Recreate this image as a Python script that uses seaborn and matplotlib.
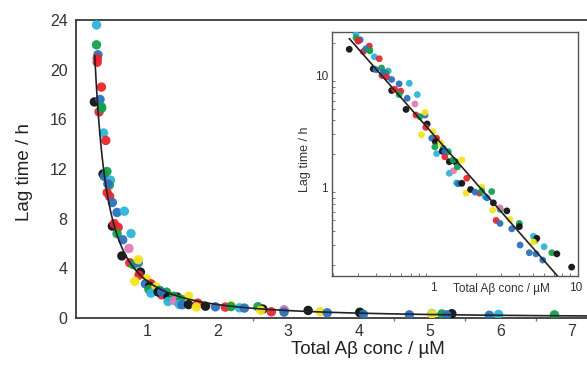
import numpy as np
import pandas as pd
import matplotlib
matplotlib.use("Agg")
import matplotlib.pyplot as plt
import matplotlib.ticker as mticker
import seaborn as sns

# ---- data ----
conc = [0.26, 0.29, 0.29, 0.30, 0.326, 0.359, 0.362, 0.389, 0.421, 0.382,
        0.40, 0.437, 0.487, 0.47, 0.475, 0.514, 0.514, 0.54, 0.595, 0.58,
        0.683, 0.58, 0.648, 0.66, 0.748, 0.777, 0.76, 0.81, 0.88, 0.88,
        0.91, 0.89, 0.83, 1.00, 0.98, 1.06, 1.04, 1.03, 1.13, 1.06,
        1.18, 1.21, 1.16, 1.28, 1.21, 1.30, 1.43, 1.59, 1.38, 1.30,
        1.39, 1.48, 1.46, 1.50, 1.59, 1.72, 1.70, 1.83, 2.19, 2.11,
        1.97, 2.19, 2.31, 2.38, 2.57, 2.64, 2.61, 2.94, 2.94, 3.28,
        2.76, 2.94, 3.45, 4.01, 4.01, 3.55, 4.06, 5.03, 5.17, 5.31,
        5.03, 4.71, 5.24, 5.97, 6.76, 7.33, 5.84, 9.3,
        0.31, 0.34, 0.36, 0.30, 0.44, 0.45]
lag = [17.4, 23.6, 22.0, 20.6, 16.6, 18.6, 16.9, 14.9, 14.3, 11.6,
       11.4, 11.8, 11.1, 10.7, 9.8, 9.3, 7.4, 7.6, 7.3, 8.5,
       8.6, 6.8, 5.0, 6.3, 5.6, 6.8, 4.45, 4.3, 4.45, 4.7,
       3.7, 3.45, 2.95, 3.15, 2.75, 2.75, 2.55, 2.3, 2.5, 2.0,
       2.23, 1.87, 2.1, 2.08, 2.1, 1.69, 1.69, 1.75, 1.75, 1.33,
       1.40, 1.52, 1.09, 1.07, 1.08, 1.2, 0.88, 0.95, 1.0, 0.88,
       0.9, 0.92, 0.82, 0.8, 0.91, 0.72, 0.62, 0.63, 0.65, 0.61,
       0.50, 0.47, 0.51, 0.47, 0.44, 0.42, 0.30, 0.36, 0.33, 0.345,
       0.32, 0.256, 0.25, 0.29, 0.256, 0.25, 0.22, 0.19,
       21.2, 17.6, 17.0, 20.9, 10.1, 10.8]
group = ["black", "cyan", "green", "red", "red", "red", "green", "cyan", "red", "black",
         "blue", "green", "cyan", "green", "red", "blue", "black", "red", "red", "blue",
         "cyan", "green", "black", "blue", "pink", "cyan", "red", "green", "blue", "yellow",
         "black", "red", "yellow", "yellow", "blue", "red", "black", "green", "yellow", "cyan",
         "green", "red", "black", "green", "blue", "black", "black", "yellow", "green", "cyan",
         "pink", "green", "cyan", "blue", "black", "red", "yellow", "black", "yellow", "red",
         "blue", "green", "cyan", "blue", "green", "black", "yellow", "green", "pink", "black",
         "red", "blue", "yellow", "green", "black", "blue", "blue", "cyan", "green", "black",
         "yellow", "blue", "blue", "cyan", "green", "black", "blue", "black",
         "blue", "blue", "green", "red", "red", "blue"]

fit_prefactor = 3.0
fit_exponent = -1.47

palette = {"black": "#111111", "red": "#e8262e", "green": "#17a04c",
           "blue": "#2c72bd", "cyan": "#2db6d8", "yellow": "#f3e41f",
           "pink": "#e27bb8"}

df = pd.DataFrame({"conc": conc, "lag": lag, "group": group})
cfit = np.geomspace(0.26, 7.6, 200)
fit_df = pd.DataFrame({"conc": cfit, "lag": fit_prefactor * cfit ** fit_exponent})
cfit_main = np.geomspace(0.265, 7.3, 300)
fit_main = pd.DataFrame({"conc": cfit_main, "lag": fit_prefactor * cfit_main ** fit_exponent})

sns.set_theme(style="white")
plt.rcParams["font.family"] = ["Liberation Sans", "DejaVu Sans"]

fig = plt.figure(figsize=(5.87, 3.66), dpi=100)
ax = fig.add_axes([76 / 587, 1 - 318 / 366, 1 - 76 / 587, (318 - 20) / 366])

spine_c = "#3a3a3a"
sns.scatterplot(data=df, x="conc", y="lag", hue="group", palette=palette,
                s=46, linewidth=0, alpha=0.95, legend=False, ax=ax, zorder=3)
sns.lineplot(data=fit_main, x="conc", y="lag", color="#222222", lw=1.2,
             ax=ax, zorder=4, sort=False)
ax.set_xlim(0, 7.22)
ax.set_ylim(0, 24)
ax.set_xticks([1, 2, 3, 4, 5, 6, 7])
ax.set_yticks([0, 4, 8, 12, 16, 20, 24])
ax.xaxis.set_minor_locator(mticker.FixedLocator([2.5, 4.5, 5.5, 6.5]))
ax.tick_params(axis="both", which="major", direction="in", length=5, width=1,
               color=spine_c, labelsize=11.5, labelcolor="#333333", pad=6)
ax.tick_params(axis="x", which="minor", direction="out", length=2, width=1,
               color="#777777", bottom=True)
ax.tick_params(axis="x", which="major", pad=4)
for side in ["left", "bottom", "top"]:
    ax.spines[side].set_color(spine_c)
    ax.spines[side].set_linewidth(1.3)
ax.spines["right"].set_visible(False)
ax.set_xlabel("Total Aβ conc / µM", fontsize=13.5, color="#222222")
ax.set_ylabel("Lag time / h", fontsize=13.5, color="#222222")
ax.xaxis.set_label_coords(0.571, -0.078)
ax.yaxis.set_label_coords(-0.085, 0.49)

# ---- inset ----
axi = fig.add_axes([332 / 587, 1 - 276 / 366, (578 - 332) / 587, (276 - 32) / 366])
sns.scatterplot(data=df, x="conc", y="lag", hue="group", palette=palette,
                s=24, linewidth=0, alpha=0.95, legend=False, ax=axi, zorder=3)
sns.lineplot(data=fit_df, x="conc", y="lag", color="#222222", lw=1.2,
             ax=axi, zorder=4, sort=False)
axi.set_xscale("log")
axi.set_yscale("log")
axi.set_xlim(0.197, 10.3)
axi.set_ylim(0.158, 24.9)
axi.xaxis.set_major_locator(mticker.FixedLocator([1, 10]))
axi.yaxis.set_major_locator(mticker.FixedLocator([1, 10]))
axi.xaxis.set_major_formatter(mticker.FixedFormatter(["1", "10"]))
axi.yaxis.set_major_formatter(mticker.FixedFormatter(["1", "10"]))
axi.xaxis.set_minor_locator(mticker.LogLocator(base=10, subs=np.arange(2, 10)))
axi.yaxis.set_minor_locator(mticker.LogLocator(base=10, subs=np.arange(2, 10)))
axi.xaxis.set_minor_formatter(mticker.NullFormatter())
axi.yaxis.set_minor_formatter(mticker.NullFormatter())
axi.tick_params(axis="both", which="major", direction="in", length=4, width=0.8,
                color="#555555", labelsize=8.5, labelcolor="#333333", pad=3)
axi.tick_params(axis="both", which="minor", direction="in", length=2, width=0.7,
                color="#777777", bottom=True, left=True)
axi.tick_params(axis="x", which="major", pad=4)
for side in axi.spines:
    axi.spines[side].set_color("#555555")
    axi.spines[side].set_linewidth(1.0)
axi.set_xlabel("Total Aβ conc / µM", fontsize=8.5, color="#333333")
axi.set_ylabel("Lag time / h", fontsize=9, color="#333333")
axi.xaxis.set_label_coords(0.69, -0.028)
axi.yaxis.set_label_coords(-0.085, 0.48)

fig.savefig("out.png", dpi=100)
